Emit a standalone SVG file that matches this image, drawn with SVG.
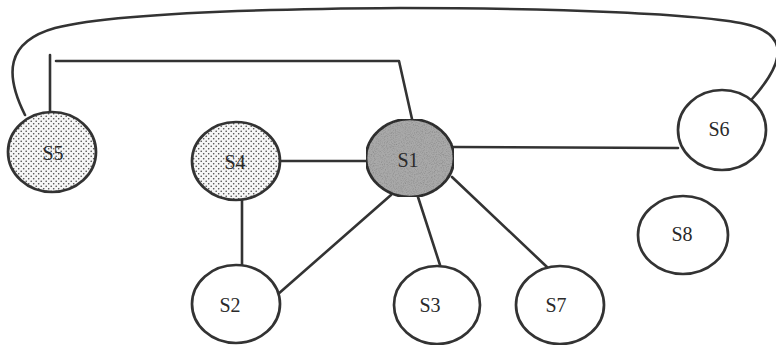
<svg xmlns="http://www.w3.org/2000/svg" width="776" height="345" viewBox="0 0 776 345">
  <defs>
    <pattern id="dots" width="5" height="5" patternUnits="userSpaceOnUse">
      <rect width="5" height="5" fill="#f6f6f6"/>
      <circle cx="1.2" cy="1.2" r="0.8" fill="#444"/>
      <circle cx="3.7" cy="3.7" r="0.8" fill="#444"/>
    </pattern>
    <filter id="grain" x="0" y="0" width="100%" height="100%">
      <feTurbulence type="fractalNoise" baseFrequency="0.9" numOctaves="2" seed="3" result="n"/>
      <feColorMatrix in="n" type="matrix" values="0 0 0 0 0  0 0 0 0 0  0 0 0 0 0  0 0 0 -0.7 0.4" result="a"/>
      <feComposite in="a" in2="SourceGraphic" operator="in" result="g"/>
      <feMerge><feMergeNode in="SourceGraphic"/><feMergeNode in="g"/></feMerge>
    </filter>
    <style>
      .edge { fill: none; stroke: #333; stroke-width: 2.6; stroke-linecap: round; stroke-linejoin: round; }
      .node ellipse { stroke: #333; stroke-width: 2.7; fill: #fff; }
      .node.dotted ellipse { fill: url(#dots); }
      .node.dark ellipse { fill: #a9a9a9; }
      .node text { font-family: "Liberation Serif", "Times New Roman", serif; font-size: 20px; fill: #2a2a2a; text-anchor: middle; dominant-baseline: central; }
    </style>
  </defs>

  <rect width="776" height="345" fill="#fff"/>

  <!-- connectors -->
  <g id="edges">
    <path class="edge" d="M25 115 C5 75 5 42 55 28 C110 14 250 9 400 8 C560 8 700 14 745 24 C790 34 785 62 752 99"/>
    <path class="edge" d="M50 113 L50 55"/>
    <path class="edge" d="M56 61 L399 61 L412 119"/>
    <path class="edge" d="M279 161 L366 161"/>
    <path class="edge" d="M454 147 L678 148"/>
    <path class="edge" d="M242 200 L242 265"/>
    <path class="edge" d="M391 195 L277 295"/>
    <path class="edge" d="M418 197 L440 265"/>
    <path class="edge" d="M452 177 L547 267"/>
  </g>

  <!-- nodes -->
  <g id="S5" class="node dotted">
    <ellipse cx="52" cy="152" rx="44" ry="40"/>
    <text x="53" y="153">S5</text>
  </g>
  <g id="S4" class="node dotted">
    <ellipse cx="236" cy="161" rx="44" ry="39"/>
    <text x="235" y="162">S4</text>
  </g>
  <g id="S1" class="node dark">
    <ellipse cx="410" cy="158" rx="44" ry="39" filter="url(#grain)"/>
    <text x="408" y="160">S1</text>
  </g>
  <g id="S6" class="node">
    <ellipse cx="722" cy="130" rx="44" ry="40"/>
    <text x="719" y="129">S6</text>
  </g>
  <g id="S8" class="node">
    <ellipse cx="683" cy="235" rx="45" ry="39"/>
    <text x="682" y="234">S8</text>
  </g>
  <g id="S2" class="node">
    <ellipse cx="236" cy="304" rx="44" ry="39"/>
    <text x="230" y="305">S2</text>
  </g>
  <g id="S3" class="node">
    <ellipse cx="437" cy="305" rx="43" ry="39"/>
    <text x="430" y="305">S3</text>
  </g>
  <g id="S7" class="node">
    <ellipse cx="560" cy="305" rx="44" ry="39"/>
    <text x="556" y="305">S7</text>
  </g>
</svg>
